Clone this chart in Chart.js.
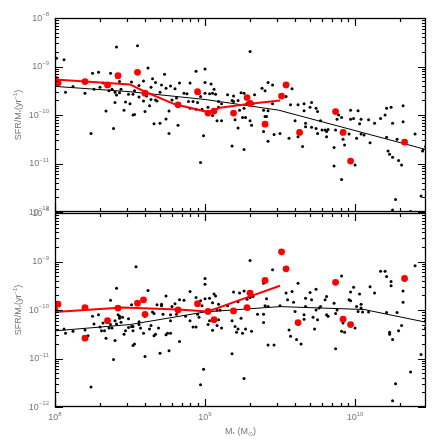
<!DOCTYPE html>
<html>
<head>
<meta charset="utf-8">
<script src="https://cdn.jsdelivr.net/npm/chart.js@4.4.1/dist/chart.umd.min.js"></script>
<style>
  body { margin: 0; background: #fff; }
  canvas { position: absolute; left: 0; top: 0; }
</style>
</head>
<body>
<canvas id="topPanel" width="443" height="443"></canvas>
<canvas id="bottomPanel" width="443" height="443"></canvas>
<script>
// values as log10 (mass in Msun, sSFR in yr^-1)
const xDecades = [8, 9, 10];
const yDecades = [-12, -11, -10, -9, -8];
const xMin = 1e8, xMax = 2.97e10;
const yMin = 1e-12, yMax = 1e-8;

// top panel, small black points
const topBlackMass = [8.01,8.06,8.07,8.12,8.20,8.24,8.25,8.29,8.26,8.30,8.32,8.34,8.36,8.37,8.38,8.39,8.40,8.40,8.41,8.41,8.43,8.43,8.44,8.46,8.47,8.49,8.50,8.51,8.52,8.52,8.53,8.53,8.55,8.56,8.56,8.59,8.59,8.60,8.61,8.62,8.63,8.64,8.64,8.65,8.66,8.67,8.67,8.68,8.70,8.70,8.71,8.73,8.74,8.74,8.76,8.76,8.77,8.78,8.80,8.82,8.83,8.81,
  8.86,8.88,8.89,8.90,8.90,8.92,8.94,8.94,8.95,8.96,8.97,8.98,8.99,8.97,9.00,9.00,9.00,9.02,9.03,9.04,9.05,9.05,9.06,9.07,9.08,9.09,9.09,9.11,9.11,9.15,9.18,9.18,9.19,9.19,9.20,9.22,9.22,9.23,9.24,9.25,9.26,9.26,9.26,9.27,9.28,9.30,9.30,9.31,9.32,9.33,9.38,9.39,9.39,9.40,9.40,9.41,9.42,9.42,9.42,9.45,9.45,9.46,9.50,9.54,9.56,9.57,9.58,9.60,9.62,9.62,9.65,
  9.66,9.66,9.67,9.67,9.70,9.71,9.71,9.74,9.75,9.74,9.75,9.77,9.78,9.80,9.81,9.81,9.82,9.86,9.86,9.87,9.88,9.89,9.91,9.91,9.92,9.93,9.96,9.97,9.97,9.99,10.00,10.01,10.02,10.03,10.04,10.04,10.06,10.09,10.10,10.13,10.17,10.20,10.21,10.21,10.22,10.23,10.24,10.25,10.25,10.25,10.27,10.28,10.29,10.31,10.32,10.32,10.37,10.40,10.44,10.45,10.47];
const topBlackSsfr = [-8.83,-8.86,-9.53,-9.41,-9.55,-10.38,-9.14,-9.12,-9.47,-9.43,-9.34,-9.92,-9.50,-9.14,-9.47,-10.28,-9.53,-9.74,-9.59,-8.60,-9.54,-9.31,-9.47,-9.90,-9.73,-9.57,-9.77,-9.32,-9.57,-10.00,-9.99,-9.50,-8.57,-9.39,-9.63,-9.71,-9.30,-9.93,-9.61,-9.03,-9.81,-9.43,-9.68,-9.25,-10.18,-9.69,-9.33,-9.71,-10.17,-9.53,-9.38,-9.16,-10.08,-9.45,-10.38,-9.92,-9.40,-9.69,-9.46,-10.21,-9.34,-9.65,
  -9.55,-9.56,-9.72,-9.34,-9.86,-9.72,-9.88,-9.10,-9.74,-9.55,-9.62,-9.88,-10.43,-10.98,-9.33,-9.55,-9.05,-9.84,-9.56,-9.36,-9.55,-10.01,-9.47,-9.57,-10.12,-9.72,-9.84,-10.12,-9.77,-9.58,-9.70,-10.64,-9.61,-9.72,-10.10,-10.27,-9.70,-9.90,-9.54,-10.05,-9.55,-10.71,-9.86,-10.05,-9.76,-8.69,-10.12,-10.21,-9.77,-9.58,-9.45,-9.90,-10.34,-10.03,-9.50,-10.03,-9.33,-9.91,-10.54,-9.38,-9.77,-10.40,-10.38,-9.62,-10.48,-9.79,-9.46,-10.12,-10.45,-9.79,-10.65,
  -9.77,-9.91,-10.17,-10.24,-9.84,-9.74,-10.25,-9.86,-9.93,-10.28,-10.38,-10.12,-10.31,-10.31,-10.45,-10.34,-10.30,-10.67,-11.05,-10.31,-10.09,-10.00,-10.05,-11.33,-10.50,-10.62,-10.39,-10.09,-9.90,-10.07,-11.03,-10.48,-9.91,-10.18,-10.09,-10.39,-10.41,-10.10,-10.57,-10.17,-10.07,-10.00,-9.86,-10.46,-10.74,-10.81,-9.84,-10.17,-10.87,-11.96,-11.74,-10.50,-10.94,-11.03,-9.81,-10.14,-11.99,-10.39,-11.67,-10.74,-10.65];

// top panel, big red points
const topRedMass = [8.00,8.02,8.20,8.35,8.42,8.55,8.60,8.82,8.95,9.02,9.06,9.19,9.28,9.30,9.40,9.51,9.54,9.63,9.87,9.92,9.97,10.33];
const topRedSsfr = [-9.26,-9.34,-9.31,-9.38,-9.19,-9.12,-9.55,-9.79,-9.52,-9.96,-9.92,-9.96,-9.64,-9.76,-10.19,-9.61,-9.38,-10.36,-9.93,-10.36,-10.95,-10.56];

// top panel lines
const topRedLineMass = [8.00,8.50,8.60,8.80,9.02,9.10,9.30,9.50];
const topRedLineSsfr = [-9.27,-9.37,-9.52,-9.78,-9.94,-9.85,-9.77,-9.70];
const topBlackLineMass = [8.00,8.50,9.00,9.49,10.47];
const topBlackLineSsfr = [-9.41,-9.52,-9.68,-9.90,-10.71];

// bottom panel, small black points
const botBlackMass = [8.06,8.07,8.12,8.20,8.22,8.24,8.25,8.26,8.29,8.30,8.31,8.32,8.33,8.34,8.36,8.37,8.37,8.38,8.39,8.40,8.40,8.41,8.41,8.42,8.43,8.43,8.44,8.45,8.46,8.47,8.49,8.49,8.51,8.51,8.52,8.52,8.52,8.53,8.54,8.56,8.56,8.57,8.59,8.60,8.60,8.62,8.63,8.64,8.65,8.66,8.66,8.67,8.68,8.69,8.70,8.71,8.71,8.72,8.74,8.74,8.75,8.76,8.77,8.77,8.77,8.78,8.80,8.81,8.83,8.83,
  8.86,8.87,8.90,8.90,8.92,8.94,8.94,8.95,8.96,8.97,8.97,8.98,8.99,9.00,9.00,9.00,9.02,9.03,9.03,9.05,9.05,9.06,9.07,9.08,9.08,9.09,9.09,9.10,9.11,9.15,9.18,9.18,9.19,9.20,9.21,9.22,9.22,9.23,9.24,9.25,9.26,9.26,9.27,9.28,9.29,9.30,9.30,9.31,9.32,9.35,9.39,9.39,9.39,9.40,9.41,9.42,9.42,9.45,9.46,9.50,9.54,9.55,9.56,9.57,9.58,9.59,9.60,9.61,9.62,9.64,
  9.66,9.66,9.67,9.67,9.70,9.71,9.72,9.73,9.74,9.74,9.75,9.76,9.77,9.80,9.81,9.81,9.82,9.86,9.87,9.87,9.88,9.91,9.92,9.91,9.93,9.96,9.97,9.97,9.99,10.00,10.01,10.02,10.03,10.04,10.04,10.05,10.09,10.10,10.13,10.17,10.20,10.21,10.21,10.23,10.23,10.24,10.24,10.25,10.25,10.27,10.28,10.29,10.31,10.32,10.32,10.37,10.40,10.44,10.47,10.47];
const botBlackSsfr = [-10.39,-10.48,-10.44,-10.41,-10.53,-11.59,-10.13,-10.29,-10.10,-10.35,-10.43,-10.27,-10.43,-10.58,-10.37,-10.30,-9.80,-10.37,-11.02,-10.22,-10.63,-10.29,-9.55,-10.10,-10.17,-10.13,-10.25,-10.15,-10.50,-10.43,-10.18,-10.36,-10.34,-9.89,-10.43,-10.34,-10.73,-10.70,-9.11,-10.24,-10.30,-10.37,-10.48,-10.13,-10.96,-9.60,-10.39,-10.32,-10.04,-10.07,-10.53,-10.50,-9.89,-10.37,-10.89,-9.91,-9.88,-10.09,-9.71,-10.51,-10.48,-10.84,-10.48,-10.10,-10.22,-9.93,-9.87,-10.09,-9.79,-10.65,
  -9.80,-10.13,-9.62,-10.22,-10.35,-10.35,-9.74,-10.09,-10.15,-9.81,-11.54,-9.91,-11.22,-9.77,-9.35,-9.47,-10.30,-9.76,-10.22,-9.85,-10.42,-9.67,-9.71,-10.32,-10.00,-9.88,-10.20,-10.00,-10.37,-9.91,-10.22,-10.90,-9.63,-10.34,-10.46,-10.39,-9.83,-9.65,-10.17,-10.48,-9.61,-11.41,-10.39,-9.78,-9.98,-8.98,-9.74,-10.44,-9.72,-10.09,-9.45,-10.09,-10.26,-9.91,-9.77,-9.93,-10.72,-9.17,-10.72,-9.91,-9.65,-9.79,-10.41,-10.54,-9.62,-9.84,-10.03,-10.61,-9.45,-10.70,
  -10.19,-10.10,-9.93,-9.76,-9.64,-9.79,-10.15,-10.39,-10.00,-9.57,-10.20,-9.96,-9.93,-9.79,-10.10,-9.72,-10.13,-9.86,-10.80,-10.07,-10.00,-9.30,-10.27,-10.44,-10.46,-9.79,-9.81,-9.63,-9.53,-10.37,-9.93,-10.03,-9.67,-9.88,-9.96,-10.04,-10.04,-9.52,-9.65,-9.20,-9.20,-10.05,-9.31,-10.46,-10.50,-9.41,-9.50,-10.61,-11.87,-11.52,-10.05,-10.43,-10.32,-9.84,-9.61,-11.28,-9.09,-10.92,-10.37,-10.22];

// bottom panel, big red points
const botRedMass = [8.00,8.02,8.20,8.20,8.35,8.42,8.55,8.59,8.60,8.82,8.95,9.02,9.06,9.19,9.28,9.30,9.40,9.51,9.54,9.62,9.87,9.92,9.97,10.33];
const botRedSsfr = [-10.00,-9.88,-9.95,-10.58,-10.22,-9.96,-9.86,-9.79,-10.09,-10.00,-9.87,-10.03,-10.20,-10.02,-9.95,-9.65,-9.39,-8.80,-9.15,-10.26,-9.43,-10.19,-10.30,-9.35];

// bottom panel lines
const botRedLineMass = [8.00,8.45,8.82,9.02,9.30,9.50];
const botRedLineSsfr = [-10.04,-9.95,-9.99,-10.03,-9.72,-9.50];
const botBlackLineMass = [8.00,8.50,9.00,9.50,10.06,10.47];
const botBlackLineSsfr = [-10.43,-10.30,-10.04,-9.93,-9.99,-10.25];

function toPoints(logX, logY) {
  return logX.map((v, i) => ({ x: Math.pow(10, v), y: Math.pow(10, logY[i]) }));
}

const labelColor = "#777";
const fontName = "'Liberation Sans', Arial, Helvetica, sans-serif";

// draws text made of pieces with their own size and baseline shift
function richText(ctx, parts, x, y, align) {
  let total = 0;
  parts.forEach(p => {
    ctx.font = p.size + "px " + fontName;
    p.w = ctx.measureText(p.t).width;
    total += p.w;
  });
  let cx = align === "right" ? x - total : align === "center" ? x - total / 2 : x;
  ctx.textAlign = "left";
  ctx.textBaseline = "middle";
  parts.forEach(p => {
    ctx.font = p.size + "px " + fontName;
    ctx.fillText(p.t, cx, y + (p.dy || 0));
    cx += p.w;
  });
}

function powerLabel(e) {
  const s = String(e).replace("-", "\u2212");
  return [{ t: "10", size: 9 }, { t: s, size: 6, dy: -4 }];
}

const frame = {
  id: "frame",
  afterDraw(chart, args, opts) {
    const ctx = chart.ctx;
    const a = chart.chartArea;
    const x = chart.scales.x, y = chart.scales.y;
    ctx.save();
    ctx.strokeStyle = "#000";
    ctx.lineWidth = 1.3;
    ctx.strokeRect(a.left + 0.5, a.top + 0.5, a.right - a.left - 1, a.bottom - a.top - 1);

    // inward ticks on all four sides
    ctx.lineWidth = 1.2;
    ctx.beginPath();
    xDecades.forEach(e => {
      for (let m = 1; m <= 9; m++) {
        const v = m * Math.pow(10, e);
        if (v < xMin || v > xMax) continue;
        const px = Math.round(x.getPixelForValue(v)) + 0.5;
        const len = m === 1 ? 8 : 4;
        ctx.moveTo(px, a.bottom);
        ctx.lineTo(px, a.bottom - len);
        ctx.moveTo(px, a.top);
        ctx.lineTo(px, a.top + len);
      }
    });
    yDecades.forEach(e => {
      for (let m = 1; m <= 9; m++) {
        const v = m * Math.pow(10, e);
        if (v < yMin || v > yMax) continue;
        const py = Math.round(y.getPixelForValue(v)) + 0.5;
        const len = m === 1 ? 8 : 4;
        ctx.moveTo(a.left, py);
        ctx.lineTo(a.left + len, py);
        ctx.moveTo(a.right, py);
        ctx.lineTo(a.right - len, py);
      }
    });
    ctx.stroke();

    ctx.fillStyle = labelColor;
    yDecades.forEach(e => {
      const py = y.getPixelForValue(Math.pow(10, e));
      richText(ctx, powerLabel(e), a.left - 6, py + 0.5, "right");
    });
    if (opts.xLabels) {
      xDecades.forEach(e => {
        const px = x.getPixelForValue(Math.pow(10, e));
        richText(ctx, powerLabel(e), px, a.bottom + 11, "center");
      });
      richText(ctx, [
        { t: "M", size: 9 }, { t: "*", size: 6, dy: 2 },
        { t: " (M", size: 9 }, { t: "\u2299", size: 6, dy: 2 }, { t: ")", size: 9 }
      ], (a.left + a.right) / 2, a.bottom + 25, "center");
    }
    ctx.translate(19, (a.top + a.bottom) / 2);
    ctx.rotate(-Math.PI / 2);
    richText(ctx, [
      { t: "SFR/M", size: 9 }, { t: "*", size: 6, dy: 2 },
      { t: "(yr", size: 9 }, { t: "\u22121", size: 6, dy: -4 }, { t: ")", size: 9 }
    ], 0, 0, "center");
    ctx.restore();
  }
};

function makePanel(canvasId, pad, xHeight, showXLabels, blackPts, redPts, blackLine, redLine) {
  return new Chart(document.getElementById(canvasId).getContext("2d"), {
    type: "scatter",
    data: {
      datasets: [
        {
          label: "red points",
          data: redPts,
          backgroundColor: "rgb(255, 0, 0)",
          borderWidth: 0,
          pointRadius: 3.4,
        },
        {
          label: "red line",
          data: redLine,
          showLine: true,
          borderColor: "rgb(255, 0, 0)",
          borderWidth: 2,
          pointRadius: 0,
        },
        {
          label: "black line",
          data: blackLine,
          showLine: true,
          borderColor: "#000",
          borderWidth: 1,
          pointRadius: 0,
        },
        {
          label: "black points",
          data: blackPts,
          backgroundColor: "#000",
          borderWidth: 0,
          pointRadius: 1.5,
        },
      ],
    },
    options: {
      responsive: false,
      animation: false,
      devicePixelRatio: 1,
      layout: { padding: pad },
      scales: {
        x: {
          type: "logarithmic",
          min: xMin,
          max: xMax,
          ticks: { display: false },
          grid: { display: false },
          border: { display: false },
          afterFit(scale) { scale.height = xHeight; }
        },
        y: {
          type: "logarithmic",
          min: yMin,
          max: yMax,
          ticks: { display: false },
          grid: { display: false },
          border: { display: false },
          afterFit(scale) { scale.width = 55; }
        }
      },
      plugins: {
        legend: { display: false },
        tooltip: { enabled: false },
        frame: { xLabels: showXLabels }
      }
    },
    plugins: [frame]
  });
}

makePanel("topPanel", { left: 0, top: 18, right: 17, bottom: 231 }, 0, false,
  toPoints(topBlackMass, topBlackSsfr), toPoints(topRedMass, topRedSsfr),
  toPoints(topBlackLineMass, topBlackLineSsfr), toPoints(topRedLineMass, topRedLineSsfr));

makePanel("bottomPanel", { left: 0, top: 213, right: 17, bottom: 0 }, 36, true,
  toPoints(botBlackMass, botBlackSsfr), toPoints(botRedMass, botRedSsfr),
  toPoints(botBlackLineMass, botBlackLineSsfr), toPoints(botRedLineMass, botRedLineSsfr));
</script>
</body>
</html>
